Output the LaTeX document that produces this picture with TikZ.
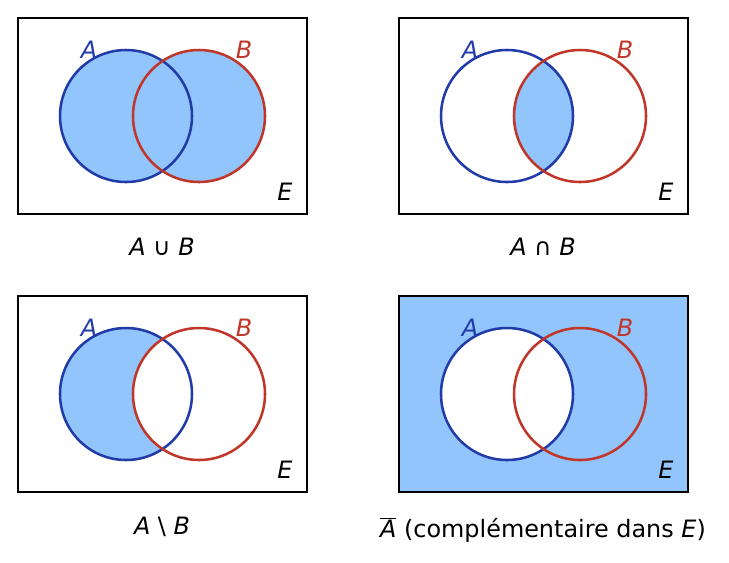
\documentclass[tikz,border=0pt]{standalone}
\usepackage{fontspec}
\setmainfont{DejaVu Sans}
\definecolor{setfill}{RGB}{147,197,253}
\definecolor{setA}{RGB}{33,60,168}
\definecolor{setB}{RGB}{192,55,42}
\tikzset{
  circA/.style={draw=setA, line width=1.8pt},
  circB/.style={draw=setB, line width=1.8pt},
  frame/.style={draw=black, line width=1.8pt},
  lbl/.style={font=\fontsize{17}{20}\selectfont\itshape, inner sep=0pt},
  caption/.style={font=\fontsize{17}{20}\selectfont, inner sep=0pt}
}
\newcommand{\venncircles}{%
  \draw[circA] (126,116) circle (66);
  \draw[circB] (199,116) circle (66);
  \draw[frame] (18,18) rectangle (307,214);
  \node[lbl, text=setA] at (89,50) {A};
  \node[lbl, text=setB] at (244,50) {B};
  \node[lbl] at (285,192) {E};
}
\begin{document}
\begin{tikzpicture}[x=0.025cm, y=-0.025cm]
  \useasboundingbox (0,0) rectangle (729,562);
  % union
  \begin{scope}
    \fill[setfill] (126,116) circle (66) (199,116) circle (66);
    \venncircles
  \end{scope}
  \node[caption] (union) at (162,247) {\textit{A} ∪ \textit{B}};
  % intersection
  \begin{scope}[xshift=381*0.025cm]
    \begin{scope}
      \clip (126,116) circle (66);
      \fill[setfill] (199,116) circle (66);
    \end{scope}
    \venncircles
  \end{scope}
  \node[caption] (inter) at (543,247) {\textit{A} ∩ \textit{B}};
  % difference
  \begin{scope}[yshift=-278*0.025cm]
    \fill[setfill] (126,116) circle (66);
    \fill[white] (199,116) circle (66);
    \venncircles
  \end{scope}
  \node[caption] (diff) at (162,527) {\textit{A} \textbackslash{} \textit{B}};
  % complement
  \begin{scope}[xshift=381*0.025cm, yshift=-278*0.025cm]
    \fill[setfill] (18,18) rectangle (307,214);
    \fill[white] (126,116) circle (66);
    \venncircles
  \end{scope}
  \node[caption] (compl) at (543,530) {$\overline{\mbox{\textit{A}}}$ (complémentaire dans \textit{E})};
\end{tikzpicture}
\end{document}
